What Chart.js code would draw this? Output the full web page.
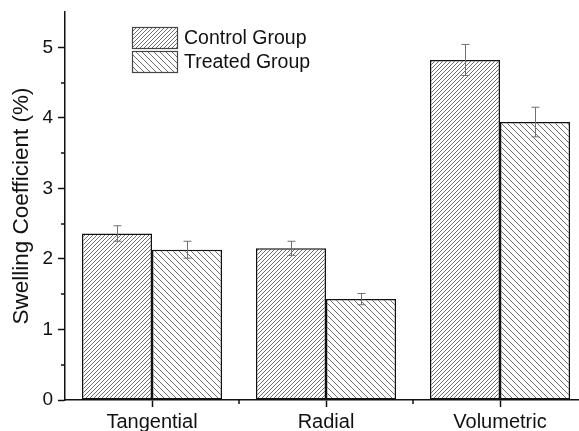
<!DOCTYPE html>
<html>
<head>
<meta charset="utf-8">
<script src="https://cdn.jsdelivr.net/npm/chart.js@4.4.1/dist/chart.umd.min.js"></script>
<style>
  html, body { margin: 0; padding: 0; overflow: hidden; background: #fff; }
  #wrap { width: 600px; height: 431px; }
</style>
</head>
<body>
<div id="wrap"><canvas id="c" width="600" height="431"></canvas></div>
<script>
const categories = ['Tangential', 'Radial', 'Volumetric'];
const seriesLabels = ['Control Group', 'Treated Group'];
const controlValues = [2.36, 2.15, 4.82];
const treatedValues = [2.13, 1.43, 3.94];
const controlErrors = [0.11, 0.10, 0.22];
const treatedErrors = [0.12, 0.08, 0.21];
const yTickValues = [0, 1, 2, 3, 4, 5];
const yMinorTickValues = [0.5, 1.5, 2.5, 3.5, 4.5];

const FONT = '"Liberation Sans", Arial, sans-serif';

function makePattern(size, forward) {
  const p = document.createElement('canvas');
  p.width = size; p.height = size;
  const g = p.getContext('2d');
  g.fillStyle = '#ffffff';
  g.fillRect(0, 0, size, size);
  g.strokeStyle = '#6e6e6e';
  g.lineWidth = 1;
  g.beginPath();
  if (forward) {
    g.moveTo(-1, size + 1); g.lineTo(size + 1, -1);
    g.moveTo(-1 - size, size + 1); g.lineTo(1, -1);
    g.moveTo(size - 1, size + 1); g.lineTo(2 * size + 1, -1);
  } else {
    g.moveTo(-1, -1); g.lineTo(size + 1, size + 1);
    g.moveTo(-1 - size, -1); g.lineTo(1, size + 1);
    g.moveTo(size - 1, -1); g.lineTo(2 * size + 1, size + 1);
  }
  g.stroke();
  return document.getElementById('c').getContext('2d').createPattern(p, 'repeat');
}

const controlPattern = makePattern(4, true);
const treatedPattern = makePattern(6, false);

const errorBars = {
  id: 'errorBars',
  afterDatasetsDraw(chart) {
    const ctx = chart.ctx;
    const y = chart.scales.y;
    const errs = [controlErrors, treatedErrors];
    ctx.save();
    ctx.strokeStyle = '#707070';
    ctx.lineWidth = 1;
    chart.data.datasets.forEach((ds, di) => {
      const meta = chart.getDatasetMeta(di);
      meta.data.forEach((bar, i) => {
        const v = ds.data[i], e = errs[di][i];
        const x = Math.round(bar.x) + 0.5;
        const yt = y.getPixelForValue(v + e);
        const yb = y.getPixelForValue(v - e);
        ctx.beginPath();
        ctx.moveTo(x, yt); ctx.lineTo(x, yb);
        ctx.moveTo(x - 4, yt); ctx.lineTo(x + 4, yt);
        ctx.moveTo(x - 4, yb); ctx.lineTo(x + 4, yb);
        ctx.stroke();
      });
    });
    ctx.restore();
  }
};

const minorTicks = {
  id: 'minorTicks',
  afterDraw(chart) {
    const ctx = chart.ctx;
    const xs = chart.scales.x, ys = chart.scales.y;
    ctx.save();
    ctx.strokeStyle = '#111';
    ctx.lineWidth = 1.5;
    ctx.beginPath();
    yMinorTickValues.forEach(v => {
      const py = Math.round(ys.getPixelForValue(v));
      ctx.moveTo(xs.left - 4, py); ctx.lineTo(xs.left, py);
    });
    for (let i = 0; i < categories.length - 1; i++) {
      const px = Math.round((xs.getPixelForValue(i) + xs.getPixelForValue(i + 1)) / 2);
      ctx.moveTo(px, ys.bottom); ctx.lineTo(px, ys.bottom + 4);
    }
    ctx.stroke();
    ctx.restore();
  }
};

const customLegend = {
  id: 'customLegend',
  afterDraw(chart) {
    const ctx = chart.ctx;
    const pats = [controlPattern, treatedPattern];
    ctx.save();
    seriesLabels.forEach((lab, i) => {
      const bx = 132, by = 27 + i * 24, bw = 45, bh = 21;
      ctx.fillStyle = pats[i];
      ctx.fillRect(bx, by, bw, bh);
      ctx.strokeStyle = '#444';
      ctx.lineWidth = 1.2;
      ctx.strokeRect(bx + 0.5, by + 0.5, bw, bh);
      ctx.fillStyle = '#111';
      ctx.font = '19.5px ' + FONT;
      ctx.textBaseline = 'middle';
      ctx.textAlign = 'left';
      ctx.fillText(lab, 184, by + bh / 2 + 1.5);
    });
    ctx.restore();
  }
};

new Chart(document.getElementById('c'), {
  type: 'bar',
  data: {
    labels: categories,
    datasets: [
      { label: seriesLabels[0], data: controlValues, backgroundColor: controlPattern,
        borderColor: '#111', borderWidth: 1.5, borderSkipped: false },
      { label: seriesLabels[1], data: treatedValues, backgroundColor: treatedPattern,
        borderColor: '#111', borderWidth: 1.5, borderSkipped: false }
    ]
  },
  options: {
    responsive: false,
    animation: false,
    devicePixelRatio: 1,
    layout: { padding: { top: 12, right: 13, left: 0, bottom: 0 } },
    datasets: { bar: { categoryPercentage: 0.805, barPercentage: 1.0 } },
    plugins: {
      legend: { display: false },
      tooltip: { enabled: false }
    },
    scales: {
      x: {
        offset: true,
        grid: { display: true, drawOnChartArea: false, drawTicks: true, tickLength: 7,
                offset: false, color: '#111', tickColor: '#111', tickWidth: 1.5 },
        border: { display: true, color: '#111', width: 1.5 },
        ticks: { color: '#111', font: { family: FONT, size: 20 }, padding: 3, maxRotation: 0 },
        afterFit(s) { s.height = 31; s.paddingLeft = 0; s.paddingRight = 0; }
      },
      y: {
        min: 0, max: 5.5,
        grid: { display: true, drawOnChartArea: false, drawTicks: true, tickLength: 7,
                color: '#111', tickColor: '#111', tickWidth: 1.5 },
        border: { display: true, color: '#111', width: 1.5 },
        afterBuildTicks(s) { s.ticks = yTickValues.map(v => ({ value: v })); },
        ticks: { color: '#111', font: { family: FONT, size: 19 }, padding: 5, includeBounds: false },
        title: { display: true, text: 'Swelling Coefficient (%)', color: '#111',
                 font: { family: FONT, size: 22.5 }, padding: { top: 8, bottom: 0 } },
        afterFit(s) { s.width = 65; s.paddingTop = 0; s.paddingBottom = 0; }
      }
    }
  },
  plugins: [errorBars, minorTicks, customLegend]
});
</script>
</body>
</html>
